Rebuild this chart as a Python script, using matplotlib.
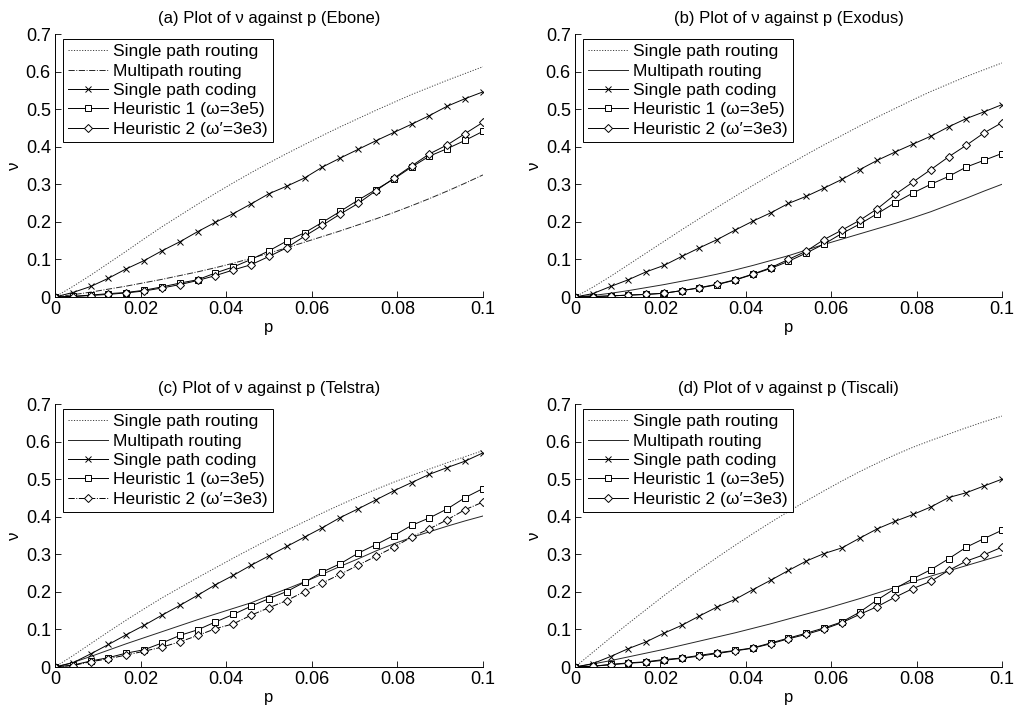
import matplotlib
matplotlib.use("Agg")
import matplotlib.pyplot as plt

plt.rcParams['font.family'] = ['Liberation Sans', 'DejaVu Sans']

# loss probability p (25 evaluation points, 0 .. 0.1)
p = [i * 0.1 / 24 for i in range(25)]

titles = [
    "(a) Plot of \u03bd against p (Ebone)",
    "(b) Plot of \u03bd against p (Exodus)",
    "(c) Plot of \u03bd against p (Telstra)",
    "(d) Plot of \u03bd against p (Tiscali)",
]
series_labels = [
    "Single path routing",
    "Multipath routing",
    "Single path coding",
    "Heuristic 1 (\u03c9=3e5)",
    "Heuristic 2 (\u03c9\u2032=3e3)",
]
xticks = [0, 0.02, 0.04, 0.06, 0.08, 0.1]
xtick_labels = ["0", "0.02", "0.04", "0.06", "0.08", "0.1"]
yticks = [0, 0.1, 0.2, 0.3, 0.4, 0.5, 0.6, 0.7]
ytick_labels = ["0", "0.1", "0.2", "0.3", "0.4", "0.5", "0.6", "0.7"]

# ---- Ebone ----
ebone_spr = [0, 0.028, 0.058, 0.090, 0.122, 0.155, 0.187, 0.217, 0.247, 0.276, 0.304, 0.331,
             0.357, 0.382, 0.406, 0.430, 0.453, 0.475, 0.497, 0.518, 0.539, 0.558, 0.577, 0.595, 0.613]
ebone_mpr = [0, 0.006, 0.013, 0.021, 0.029, 0.038, 0.047, 0.057, 0.067, 0.078, 0.090, 0.103,
             0.117, 0.131, 0.146, 0.161, 0.176, 0.192, 0.208, 0.225, 0.243, 0.262, 0.282, 0.303, 0.325]
ebone_spc = [0, 0.012, 0.028, 0.050, 0.075, 0.097, 0.123, 0.147, 0.174, 0.199, 0.222, 0.248,
             0.275, 0.295, 0.317, 0.346, 0.370, 0.393, 0.416, 0.438, 0.460, 0.483, 0.508, 0.528, 0.546]
ebone_h1 = [0, 0.002, 0.005, 0.009, 0.012, 0.018, 0.027, 0.037, 0.046, 0.064, 0.080, 0.100,
            0.123, 0.149, 0.171, 0.199, 0.228, 0.258, 0.286, 0.314, 0.346, 0.375, 0.395, 0.417, 0.441]
ebone_h2 = [0, 0.001, 0.004, 0.007, 0.011, 0.016, 0.024, 0.033, 0.044, 0.057, 0.072, 0.086,
            0.108, 0.131, 0.162, 0.191, 0.221, 0.249, 0.283, 0.316, 0.349, 0.381, 0.405, 0.435, 0.465]

# ---- Exodus ----
exodus_spr = [0, 0.026, 0.055, 0.086, 0.117, 0.148, 0.179, 0.209, 0.239, 0.268, 0.297, 0.325,
              0.352, 0.379, 0.405, 0.430, 0.455, 0.479, 0.502, 0.525, 0.547, 0.567, 0.587, 0.605, 0.623]
exodus_mpr = [0, 0.004, 0.010, 0.017, 0.025, 0.033, 0.042, 0.051, 0.061, 0.072, 0.084, 0.097,
              0.110, 0.125, 0.140, 0.154, 0.168, 0.182, 0.196, 0.211, 0.227, 0.245, 0.263, 0.282, 0.300]
exodus_spc = [0, 0.009, 0.028, 0.046, 0.067, 0.084, 0.108, 0.131, 0.153, 0.178, 0.202, 0.224,
              0.249, 0.268, 0.290, 0.313, 0.339, 0.364, 0.386, 0.407, 0.428, 0.453, 0.475, 0.493, 0.512]
exodus_h1 = [0, 0.001, 0.003, 0.005, 0.007, 0.010, 0.017, 0.024, 0.033, 0.045, 0.060, 0.076,
             0.095, 0.117, 0.141, 0.169, 0.194, 0.222, 0.251, 0.277, 0.300, 0.321, 0.346, 0.364, 0.382]
exodus_h2 = [0, 0.001, 0.003, 0.005, 0.007, 0.010, 0.017, 0.025, 0.034, 0.046, 0.061, 0.078,
             0.100, 0.122, 0.153, 0.178, 0.204, 0.235, 0.273, 0.306, 0.339, 0.373, 0.404, 0.437, 0.464]

# ---- Telstra ----
telstra_spr = [0, 0.030, 0.062, 0.094, 0.125, 0.155, 0.184, 0.211, 0.238, 0.264, 0.290, 0.315,
               0.340, 0.364, 0.387, 0.410, 0.432, 0.453, 0.473, 0.492, 0.510, 0.527, 0.544, 0.560, 0.576]
telstra_mpr = [0, 0.012, 0.028, 0.045, 0.062, 0.078, 0.094, 0.110, 0.126, 0.141, 0.156, 0.171,
               0.190, 0.208, 0.227, 0.247, 0.268, 0.288, 0.309, 0.328, 0.345, 0.360, 0.375, 0.389, 0.402]
telstra_spc = [0, 0.011, 0.035, 0.060, 0.086, 0.111, 0.138, 0.164, 0.191, 0.219, 0.244, 0.271,
               0.296, 0.321, 0.346, 0.371, 0.398, 0.421, 0.445, 0.469, 0.491, 0.513, 0.531, 0.548, 0.570]
telstra_h1 = [0, 0.005, 0.016, 0.025, 0.037, 0.046, 0.064, 0.084, 0.099, 0.120, 0.140, 0.162,
              0.182, 0.201, 0.226, 0.253, 0.275, 0.303, 0.326, 0.350, 0.377, 0.397, 0.421, 0.451, 0.475]
telstra_h2 = [0, 0.004, 0.014, 0.022, 0.032, 0.042, 0.053, 0.067, 0.084, 0.102, 0.115, 0.138,
              0.158, 0.177, 0.201, 0.224, 0.247, 0.271, 0.295, 0.319, 0.346, 0.368, 0.392, 0.419, 0.439]

# ---- Tiscali ----
tiscali_spr = [0, 0.039, 0.078, 0.116, 0.153, 0.190, 0.225, 0.259, 0.292, 0.324, 0.355, 0.385,
               0.414, 0.442, 0.469, 0.495, 0.520, 0.543, 0.565, 0.585, 0.603, 0.620, 0.637, 0.653, 0.668]
tiscali_mpr = [0, 0.008, 0.017, 0.027, 0.037, 0.047, 0.058, 0.069, 0.080, 0.091, 0.103, 0.115,
               0.128, 0.141, 0.154, 0.168, 0.182, 0.197, 0.212, 0.227, 0.242, 0.256, 0.270, 0.284, 0.298]
tiscali_spc = [0, 0.009, 0.028, 0.049, 0.067, 0.090, 0.111, 0.136, 0.160, 0.180, 0.206, 0.231,
               0.257, 0.282, 0.302, 0.317, 0.343, 0.368, 0.388, 0.406, 0.426, 0.451, 0.464, 0.482, 0.500]
tiscali_h1 = [0, 0.002, 0.007, 0.011, 0.014, 0.020, 0.024, 0.031, 0.038, 0.044, 0.051, 0.064,
              0.077, 0.090, 0.104, 0.120, 0.146, 0.179, 0.209, 0.235, 0.259, 0.288, 0.319, 0.342, 0.364]
tiscali_h2 = [0, 0.002, 0.006, 0.010, 0.013, 0.018, 0.023, 0.029, 0.036, 0.043, 0.050, 0.062,
              0.075, 0.087, 0.101, 0.118, 0.140, 0.161, 0.186, 0.209, 0.228, 0.257, 0.282, 0.299, 0.319]

panels = [
    (ebone_spr, ebone_mpr, ebone_spc, ebone_h1, ebone_h2),
    (exodus_spr, exodus_mpr, exodus_spc, exodus_h1, exodus_h2),
    (telstra_spr, telstra_mpr, telstra_spc, telstra_h1, telstra_h2),
    (tiscali_spr, tiscali_mpr, tiscali_spc, tiscali_h1, tiscali_h2),
]
# line styles that differ between panels
mpr_styles = ['-.', '-', '-', '-']
h2_styles = ['-', '-', '-.', '-']

fig = plt.figure(figsize=(10.18, 7.15), dpi=100)
rects = [
    [0.054, 0.5846, 0.4204, 0.3678],
    [0.5648, 0.5846, 0.4194, 0.3678],
    [0.054, 0.0671, 0.4204, 0.3678],
    [0.5648, 0.0671, 0.4194, 0.3678],
]

lw = 0.7
for k, (rect, title, data) in enumerate(zip(rects, titles, panels)):
    ax = fig.add_axes(rect)
    spr, mpr, spc, h1, h2 = data
    ax.plot(p, spr, linestyle=(0, (1.2, 1.6)), color='0.25', lw=lw, label=series_labels[0])
    ax.plot(p, mpr, linestyle=mpr_styles[k], color='0.15', lw=lw, label=series_labels[1])
    ax.plot(p, spc, '-', color='k', lw=lw, marker='x', ms=4, mew=0.7, label=series_labels[2])
    ax.plot(p, h1, '-', color='k', lw=lw, marker='s', ms=5, mfc='white', mew=0.7,
            label=series_labels[3])
    ax.plot(p, h2, linestyle=h2_styles[k], color='k', lw=lw, marker='D', ms=4.5, mfc='white',
            mew=0.7, label=series_labels[4])

    ax.set_xlim(0, 0.1)
    ax.set_ylim(0, 0.7)
    ax.set_xticks(xticks)
    ax.set_xticklabels(xtick_labels)
    ax.set_yticks(yticks)
    ax.set_yticklabels(ytick_labels)
    ax.tick_params(direction='in', length=4, width=0.6, labelsize=13, pad=3)
    for side in ('top', 'right'):
        ax.spines[side].set_visible(False)
    for side in ('left', 'bottom'):
        ax.spines[side].set_linewidth(0.7)
    ax.set_title(title, fontsize=12, pad=8)
    ax.set_xlabel('p', fontsize=12, labelpad=1)
    ax.set_ylabel('\u03bd', fontsize=12, labelpad=3)

    leg = ax.legend(loc='upper left', bbox_to_anchor=(0.019, 0.981), borderaxespad=0,
                    fontsize=12.5, numpoints=1, handlelength=2.3, handletextpad=0.3,
                    labelspacing=0.24, borderpad=0.3, fancybox=False, framealpha=1)
    leg.get_frame().set_edgecolor('k')
    leg.get_frame().set_linewidth(0.7)

fig.savefig('out.png', dpi=100)
